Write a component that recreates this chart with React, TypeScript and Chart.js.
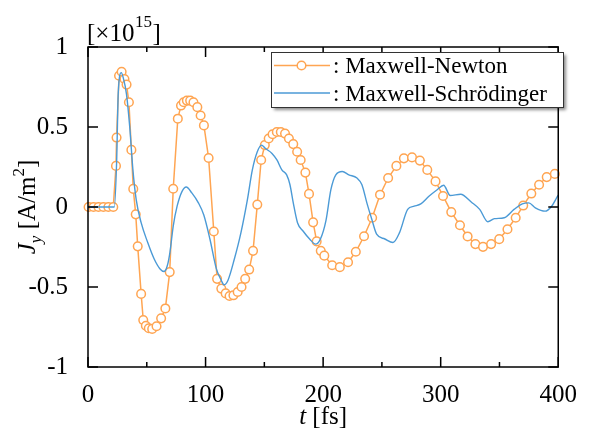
import React, { useEffect, useRef } from "react";
import { Chart, registerables } from "chart.js";

Chart.register(...registerables);

// Maxwell-Newton (markers)
const newtonTime = [
  0.5, 4.7, 8.9, 13.1, 17.3, 21.5, 23.8, 24.3, 26.4, 28.6, 31.0, 32.8, 34.8, 36.9, 38.5, 40.6,
  42.3, 45.2, 47.0, 49.2, 51.7, 54.6, 58.3, 62.2, 65.8, 69.5, 72.5, 76.4, 79.1, 81.4, 84.1,
  86.9, 89.7, 93.0, 95.8, 98.6, 102.6, 107.0, 109.8, 113.4, 117.1, 120.4, 123.7, 127.3, 130.6,
  133.7, 137.1, 140.4, 144.0, 147.3, 150.4, 153.7, 157.0, 160.6, 164.0, 167.6, 170.9, 174.6,
  177.9, 180.9, 184.9, 188.0, 191.5, 194.5, 198.0, 201.0, 207.7, 214.2, 221.2, 227.8, 234.8,
  241.7, 248.4, 255.3, 262.3, 268.7, 275.6, 282.3, 288.6, 295.6, 302.0, 309.0, 316.4, 322.9,
  329.5, 336.0, 342.9, 349.8, 356.8, 363.8, 370.2, 377.1, 383.7, 390.2, 397.1,
];
const newtonCurrent = [
  0, 0, 0, 0, 0, 0, 0.257, 0.434, 0.82, 0.845, 0.8, 0.765, 0.655, 0.357, 0.113, -0.046,
  -0.246, -0.543, -0.707, -0.742, -0.758, -0.762, -0.745, -0.696, -0.634, -0.407, 0.114, 0.552,
  0.634, 0.655, 0.665, 0.665, 0.655, 0.624, 0.572, 0.51, 0.306, -0.153, -0.449, -0.51, -0.54,
  -0.556, -0.552, -0.531, -0.5, -0.449, -0.391, -0.274, 0.015, 0.294, 0.387, 0.428, 0.455,
  0.469, 0.469, 0.459, 0.428, 0.393, 0.345, 0.294, 0.215, 0.082, -0.096, -0.215, -0.274,
  -0.304, -0.364, -0.376, -0.345, -0.28, -0.183, -0.067, 0.077, 0.181, 0.257, 0.304, 0.31,
  0.29, 0.232, 0.16, 0.069, -0.032, -0.114, -0.184, -0.232, -0.249, -0.232, -0.201, -0.139,
  -0.067, 0.009, 0.084, 0.139, 0.187, 0.207,
];

// Maxwell-Schrödinger (line)
const schrTime = [
  0, 22.4, 24.4, 25.7, 28.3, 29.9, 32.7, 35.5, 38.2, 41.0, 45.2, 50.8, 56.3, 61.3, 64.7, 67.5,
  69.7, 72.5, 75.8, 80.0, 83.6, 88.3, 93.9, 98.5, 103.7, 109.2, 113.4, 115.6, 119.0, 124.5,
  130.1, 135.6, 139.8, 144.0, 147.6, 150.9, 156.5, 160.7, 164.9, 169.0, 171.8, 174.6, 178.2,
  182.9, 188.5, 193.5, 197.7, 202.4, 206.6, 210.8, 216.3, 221.9, 228.8, 233.0, 237.2, 241.4,
  245.5, 252.5, 259.4, 265.0, 271.9, 277.5, 283.1, 290.0, 297.0, 302.5, 308.1, 317.0, 326.2,
  333.2, 340.1, 345.7, 354.0, 362.4, 369.4, 374.9, 380.5, 388.8, 394.4, 398.6, 400,
];
const schrCurrent = [
  0, 0, 0.294, 0.707, 0.84, 0.81, 0.707, 0.5, 0.232, 0.046, -0.098, -0.222, -0.325, -0.387,
  -0.403, -0.366, -0.283, -0.119, 0.005, 0.098, 0.125, 0.088, 0.026, -0.05, -0.2, -0.387,
  -0.459, -0.486, -0.459, -0.325, -0.16, 0.046, 0.232, 0.345, 0.387, 0.366, 0.335, 0.294,
  0.232, 0.201, 0.139, 0.026, -0.098, -0.15, -0.2, -0.232, -0.2, -0.085, 0.108, 0.201, 0.222,
  0.201, 0.181, 0.139, 0.026, -0.077, -0.17, -0.2, -0.222, -0.16, -0.015, 0.005, 0.02, 0.067,
  0.108, 0.136, 0.072, 0.08, 0.03, -0.015, -0.092, -0.073, -0.067, -0.015, 0.02, 0.026,
  -0.005, -0.026, 0.005, 0.057, 0.075,
];

const seriesNames = [": Maxwell-Newton", ": Maxwell-Schrödinger"];
const xTicks = [0, 100, 200, 300, 400];
const xMinorTicks = [50, 150, 250, 350];
const yTicks = [-1, -0.5, 0, 0.5, 1];

const ORANGE = "#FFA552";
const BLUE = "#4B9AD6";
const SERIF = "'Liberation Serif', 'Times New Roman', serif";

const decorPlugin = {
  id: "decor",
  afterDatasetsDraw(chart: any) {
    const { ctx, chartArea: a, scales } = chart;
    const xs = scales.x;
    const ys = scales.y;
    ctx.save();
    // frame
    ctx.strokeStyle = "#000";
    ctx.lineWidth = 1.5;
    ctx.strokeRect(a.left, a.top, a.right - a.left, a.bottom - a.top);
    // ticks
    ctx.beginPath();
    xTicks.forEach((v) => {
      const px = xs.getPixelForValue(v);
      ctx.moveTo(px, a.bottom);
      ctx.lineTo(px, a.bottom - 10);
      ctx.moveTo(px, a.top);
      ctx.lineTo(px, a.top + 10);
    });
    xMinorTicks.forEach((v) => {
      const px = xs.getPixelForValue(v);
      ctx.moveTo(px, a.bottom);
      ctx.lineTo(px, a.bottom - 5);
      ctx.moveTo(px, a.top);
      ctx.lineTo(px, a.top + 5);
    });
    yTicks.forEach((v) => {
      const py = ys.getPixelForValue(v);
      ctx.moveTo(a.left, py);
      ctx.lineTo(a.left + 10, py);
      ctx.moveTo(a.right, py);
      ctx.lineTo(a.right - 10, py);
    });
    ctx.stroke();

    // legend
    const lx = 271, ly = 52, lw = 292, lh = 55;
    ctx.save();
    ctx.shadowColor = "rgba(0,0,0,0.45)";
    ctx.shadowBlur = 3;
    ctx.shadowOffsetX = 3;
    ctx.shadowOffsetY = 3;
    ctx.fillStyle = "#fff";
    ctx.fillRect(lx, ly, lw, lh);
    ctx.restore();
    ctx.strokeStyle = "#333";
    ctx.lineWidth = 1;
    ctx.strokeRect(lx + 0.5, ly + 0.5, lw, lh);

    const ds = chart.data.datasets;
    // row 1
    ctx.strokeStyle = ds[0].borderColor;
    ctx.lineWidth = 1.5;
    ctx.beginPath();
    ctx.moveTo(274, 65.5);
    ctx.lineTo(330, 65.5);
    ctx.stroke();
    ctx.beginPath();
    ctx.arc(301.5, 65.5, 4.3, 0, Math.PI * 2);
    ctx.fillStyle = "#fff";
    ctx.fill();
    ctx.stroke();
    // row 2
    ctx.strokeStyle = ds[1].borderColor;
    ctx.lineWidth = 1.5;
    ctx.beginPath();
    ctx.moveTo(274, 93);
    ctx.lineTo(330, 93);
    ctx.stroke();

    ctx.fillStyle = "#000";
    ctx.font = `23px ${SERIF}`;
    ctx.textBaseline = "alphabetic";
    ctx.textAlign = "left";
    ctx.fillText(seriesNames[0], 333, 73);
    ctx.fillText(seriesNames[1], 333, 100.5);

    // exponent label [×10^15]
    let x = 87;
    const big = `25px ${SERIF}`;
    const small = `17px ${SERIF}`;
    ctx.font = big;
    ctx.fillText("[×10", x, 41);
    x += ctx.measureText("[×10").width;
    ctx.font = small;
    ctx.fillText("15", x + 0.5, 27);
    x += ctx.measureText("15").width + 1;
    ctx.font = big;
    ctx.fillText("]", x, 41);

    // x title: t [fs]
    const it = `italic 25px ${SERIF}`;
    ctx.font = it;
    const wt = ctx.measureText("t").width;
    ctx.font = big;
    const wr = ctx.measureText(" [fs]").width;
    const cx = (a.left + a.right) / 2;
    const sx = cx - (wt + wr) / 2;
    ctx.font = it;
    ctx.fillText("t", sx, 424);
    ctx.font = big;
    ctx.fillText(" [fs]", sx + wt, 424);

    // y title: J_y [A/m^2]
    ctx.save();
    const cy = (a.top + a.bottom) / 2;
    ctx.translate(35, cy);
    ctx.rotate(-Math.PI / 2);
    const parts = [
      { t: "J", f: it, dy: 0 },
      { t: "y", f: `italic 17px ${SERIF}`, dy: 6 },
      { t: " [A/m", f: big, dy: 0 },
      { t: "2", f: small, dy: -11 },
      { t: "]", f: big, dy: 0 },
    ];
    let total = 0;
    parts.forEach((p) => {
      ctx.font = p.f;
      total += ctx.measureText(p.t).width;
    });
    let px0 = -total / 2;
    parts.forEach((p) => {
      ctx.font = p.f;
      ctx.fillText(p.t, px0, p.dy);
      px0 += ctx.measureText(p.t).width;
    });
    ctx.restore();

    ctx.restore();
  },
};

export default function App() {
  const ref = useRef<HTMLCanvasElement>(null);
  useEffect(() => {
    if (!ref.current) return;
    const chart = new Chart(ref.current, {
      type: "line",
      data: {
        datasets: [
          {
            label: seriesNames[0],
            data: newtonTime.map((t, i) => ({ x: t, y: newtonCurrent[i] })),
            borderColor: ORANGE,
            backgroundColor: "#fff",
            borderWidth: 1.5,
            pointRadius: 4.3,
            pointBorderWidth: 1.5,
            pointBackgroundColor: "#fff",
            pointBorderColor: ORANGE,
            tension: 0,
            clip: 8,
            order: 1,
          },
          {
            label: seriesNames[1],
            data: schrTime.map((t, i) => ({ x: t, y: schrCurrent[i] })),
            borderColor: BLUE,
            borderWidth: 1.4,
            pointRadius: 0,
            cubicInterpolationMode: "monotone",
            order: 0,
          },
        ],
      },
      options: {
        responsive: false,
        animation: false,
        events: [],
        layout: { padding: { top: 47, right: 23, left: 0, bottom: 0 } },
        plugins: { legend: { display: false }, tooltip: { enabled: false } },
        scales: {
          x: {
            type: "linear",
            min: 0,
            max: 400,
            afterFit: (s: any) => {
              s.height = 66;
            },
            afterBuildTicks: (s: any) => {
              s.ticks = xTicks.map((v) => ({ value: v }));
            },
            grid: { display: false, drawTicks: false },
            border: { display: false },
            ticks: {
              padding: 13,
              maxRotation: 0,
              autoSkip: false,
              color: "#000",
              font: { family: SERIF, size: 25 },
              callback: (v: any) => String(v),
            },
          },
          y: {
            type: "linear",
            min: -1,
            max: 1,
            afterFit: (s: any) => {
              s.width = 88;
            },
            afterBuildTicks: (s: any) => {
              s.ticks = yTicks.map((v) => ({ value: v }));
            },
            grid: { display: false, drawTicks: false },
            border: { display: false },
            ticks: {
              padding: 20,
              autoSkip: false,
              color: "#000",
              font: { family: SERIF, size: 25 },
              callback: (v: any) => String(v),
            },
          },
        },
      },
      plugins: [decorPlugin],
    } as any);
    return () => chart.destroy();
  }, []);
  return (
    <canvas
      ref={ref}
      width={590}
      height={433}
      style={{ position: "absolute", left: 0, top: 0, width: 590, height: 433 }}
    />
  );
}
